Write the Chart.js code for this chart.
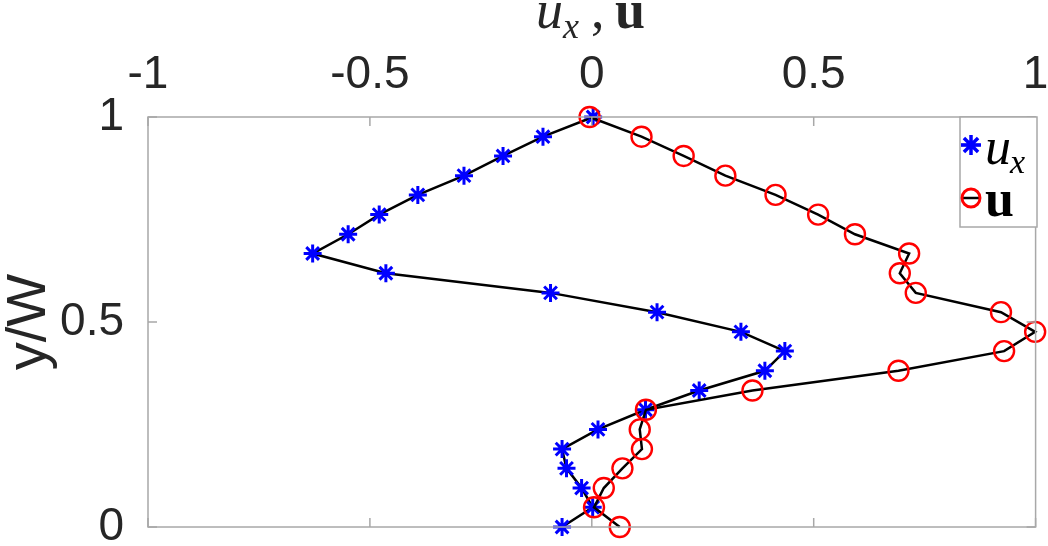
<!DOCTYPE html>
<html>
<head>
<meta charset="utf-8">
<script src="https://cdn.jsdelivr.net/npm/chart.js@4.4.1/dist/chart.umd.min.js"></script>
<style>
  body { margin: 0; background: #fff; }
  canvas { display: block; }
</style>
</head>
<body>
<canvas id="profile" width="1048" height="546"></canvas>
<script>
// y/W positions of the samples, top to bottom
const yW = [1, 0.952, 0.905, 0.857, 0.810, 0.762, 0.714, 0.667, 0.619, 0.571, 0.524,
            0.476, 0.429, 0.381, 0.333, 0.286, 0.238, 0.190, 0.143, 0.095, 0.048, 0];

const uxValues = [0.003, -0.110, -0.200, -0.288, -0.392, -0.479, -0.549, -0.629, -0.464, -0.093, 0.147,
                  0.336, 0.435, 0.390, 0.242, 0.121, 0.014, -0.067, -0.057, -0.023, 0.002, -0.067];

const uValues = [-0.005, 0.112, 0.207, 0.301, 0.414, 0.510, 0.593, 0.715, 0.694, 0.730, 0.922,
                 0.999, 0.929, 0.691, 0.362, 0.122, 0.108, 0.113, 0.069, 0.027, 0.005, 0.063];

const xTicks = [-1, -0.5, 0, 0.5, 1];
const yTicks = [0, 0.5, 1];

const tickFont = { family: "'Liberation Sans', Arial, sans-serif", size: 46 };
const boxColor = "#a8a8a8";

function toPoints(xs) {
  return xs.map((x, i) => ({ x: x, y: yW[i] }));
}

// box around the plot with inward ticks, like matlab
const boxPlugin = {
  id: "box",
  afterDatasetsDraw(chart) {
    const { ctx, chartArea: a, scales } = chart;
    ctx.save();
    ctx.strokeStyle = boxColor;
    ctx.lineWidth = 1.5;
    ctx.strokeRect(a.left, a.top, a.right - a.left, a.bottom - a.top);
    ctx.beginPath();
    xTicks.forEach(v => {
      const px = scales.x.getPixelForValue(v);
      ctx.moveTo(px, a.top); ctx.lineTo(px, a.top + 9);
      ctx.moveTo(px, a.bottom); ctx.lineTo(px, a.bottom - 9);
    });
    yTicks.forEach(v => {
      const py = scales.y.getPixelForValue(v);
      ctx.moveTo(a.left, py); ctx.lineTo(a.left + 9, py);
      ctx.moveTo(a.right, py); ctx.lineTo(a.right - 9, py);
    });
    ctx.stroke();
    ctx.restore();
  }
};

// title "u_x, u" and legend box
const textPlugin = {
  id: "labels",
  afterDraw(chart) {
    const { ctx } = chart;
    ctx.save();
    ctx.fillStyle = "#262626";
    ctx.textBaseline = "alphabetic";

    ctx.font = "italic 54px 'Liberation Serif', serif";
    ctx.fillText("u", 536, 28);
    ctx.font = "italic 36px 'Liberation Serif', serif";
    ctx.fillText("x", 563, 38);
    ctx.font = "54px 'Liberation Serif', serif";
    ctx.fillText(",", 591, 28);
    ctx.font = "bold 54px 'Liberation Serif', serif";
    ctx.fillText("u", 615, 28);

    // legend
    const lx = 960, ly = 117, lw = 77, lh = 110;
    ctx.fillStyle = "#fff";
    ctx.fillRect(lx, ly, lw, lh);
    ctx.strokeStyle = boxColor;
    ctx.lineWidth = 1.5;
    ctx.strokeRect(lx, ly, lw, lh);

    const rows = [
      { y: 145, ds: chart.data.datasets[0], r: 10 },
      { y: 198, ds: chart.data.datasets[1], r: 9 }
    ];
    rows.forEach(r => {
      ctx.strokeStyle = "#000";
      ctx.lineWidth = 2.5;
      ctx.beginPath();
      ctx.moveTo(lx + 1, r.y); ctx.lineTo(lx + 20, r.y);
      ctx.stroke();
      ctx.strokeStyle = r.ds.pointBorderColor;
      ctx.fillStyle = "rgba(0,0,0,0)";
      ctx.lineWidth = r.ds.pointBorderWidth + 0.5;
      Chart.helpers.drawPoint(ctx, {
        pointStyle: r.ds.pointStyle,
        radius: r.r,
        rotation: 0,
        borderWidth: r.ds.pointBorderWidth + 0.5
      }, lx + 11, r.y);
    });

    ctx.fillStyle = "#000";
    ctx.font = "italic 52px 'Liberation Serif', serif";
    ctx.fillText("u", 985, 164);
    ctx.font = "italic 34px 'Liberation Serif', serif";
    ctx.fillText("x", 1010, 173);
    ctx.font = "bold 52px 'Liberation Serif', serif";
    ctx.fillText("u", 985, 216);
    ctx.restore();
  }
};

new Chart(document.getElementById("profile"), {
  type: "scatter",
  data: {
    datasets: [
      {
        label: "ux",
        data: toPoints(uxValues),
        showLine: true,
        borderColor: "#000",
        borderWidth: 2.5,
        pointStyle: "star",
        pointRadius: 9,
        pointBorderColor: "#0000ff",
        pointBackgroundColor: "#0000ff",
        pointBorderWidth: 3,
        clip: false,
        order: 2
      },
      {
        label: "u",
        data: toPoints(uValues),
        showLine: true,
        borderColor: "#000",
        borderWidth: 2.5,
        pointStyle: "circle",
        pointRadius: 10,
        pointBorderColor: "#ff0000",
        pointBackgroundColor: "rgba(0,0,0,0)",
        pointBorderWidth: 2.4,
        clip: false,
        order: 1
      }
    ]
  },
  options: {
    responsive: false,
    animation: false,
    devicePixelRatio: 1,
    layout: { padding: { left: 0, top: 0, right: 12, bottom: 19 } },
    plugins: {
      legend: { display: false },
      tooltip: { enabled: false }
    },
    scales: {
      x: {
        type: "linear",
        position: "top",
        min: -1,
        max: 1,
        afterBuildTicks: s => { s.ticks = xTicks.map(v => ({ value: v })); },
        afterFit: s => {
          s.height = 117;
          s.paddingLeft = 0;
          s.paddingRight = 0;
        },
        ticks: { font: tickFont, color: "#262626", padding: 14, maxRotation: 0, callback: v => String(v) },
        grid: { display: false, drawTicks: false },
        border: { display: false }
      },
      y: {
        type: "linear",
        min: 0,
        max: 1,
        afterBuildTicks: s => { s.ticks = yTicks.map(v => ({ value: v })); },
        afterFit: s => {
          s.width = 148;
          s.paddingTop = 0;
          s.paddingBottom = 0;
        },
        ticks: { font: tickFont, color: "#262626", padding: 24, callback: v => String(v) },
        grid: { display: false, drawTicks: false },
        border: { display: false },
        title: {
          display: true,
          text: "y/W",
          font: { family: "'Liberation Sans', Arial, sans-serif", size: 56 },
          color: "#262626",
          padding: { top: -4, bottom: 0 }
        }
      }
    }
  },
  plugins: [boxPlugin, textPlugin]
});
</script>
</body>
</html>
